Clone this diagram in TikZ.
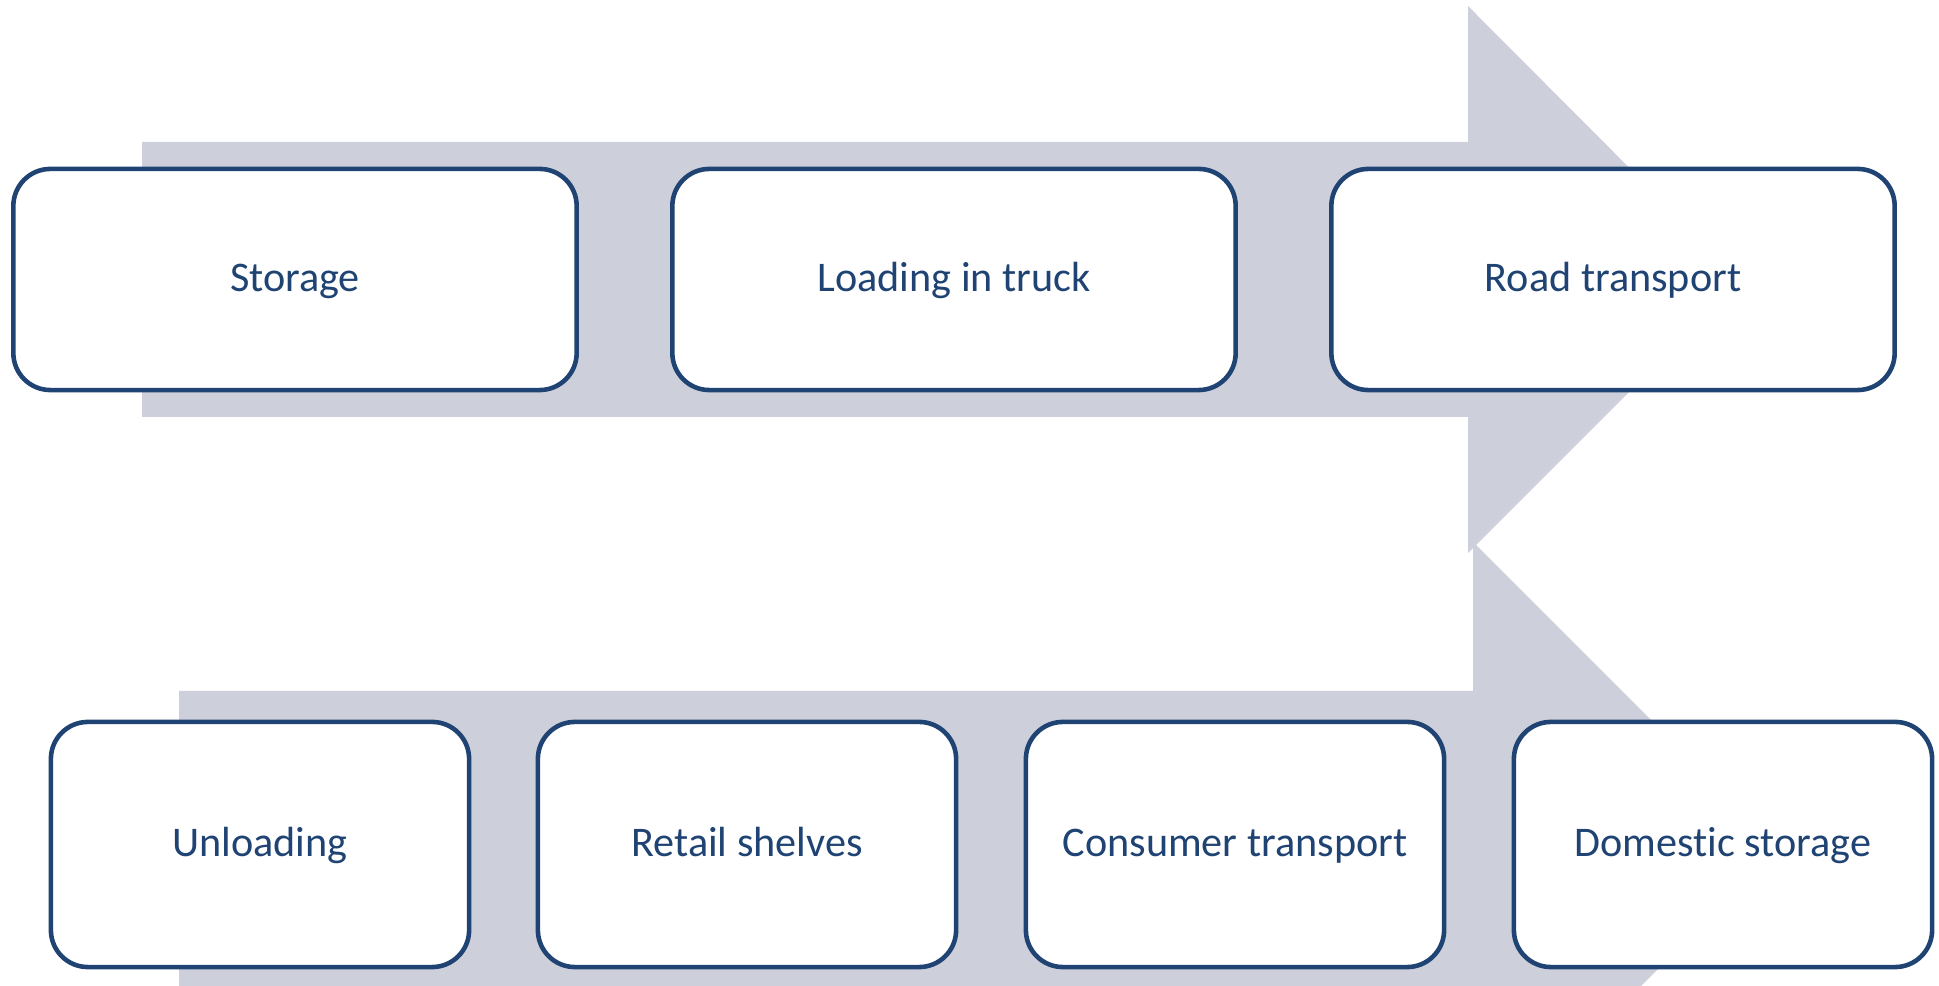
\documentclass[tikz,border=0pt]{standalone}
\usepackage{fontspec}
\setmainfont{Carlito}[Ligatures=NoCommon]
\usetikzlibrary{arrows,arrows.meta,positioning,shapes}

\definecolor{stepblue}{HTML}{1F4373}
\definecolor{flowgrey}{HTML}{CDD0DA}

\begin{document}
\begin{tikzpicture}[x=0.01cm,y=-0.01cm]
	        \tikzstyle{flow}=[fill=flowgrey,draw=none]
	    	\tikzstyle{stage}=[draw=stepblue,line width=1.3pt,fill=white,rounded corners=0.37cm,text=stepblue,font=\fontsize{12}{14}\selectfont,text height=0.8em,text depth=0.1em]
	    	\tikzstyle{upper}=[stage,minimum width=5.63cm,minimum height=2.21cm]
	    	\tikzstyle{lower}=[stage,minimum width=4.18cm,minimum height=2.45cm]
		
	    	\useasboundingbox (0,0) rectangle (1939,986);
	    	\clip (0,0) rectangle (1939,986);
		
	    	% the two block arrows behind the steps
	    	\fill[flow] (142,142) -- (1468,142) -- (1468,6) -- (1741,280) -- (1468,553) -- (1468,417) -- (142,417) -- cycle;
	    	\fill[flow] (179,691) -- (1473,691) -- (1473,542) -- (1779,848) -- (1473,1154) -- (1473,1005) -- (179,1005) -- cycle;
		
	    	% first row
	    	\node[upper] (storage) at (295,279.5) {Storage};
	    	\node[upper] (loading) at (954,279.5) {Loading in truck};
	    	\node[upper] (road) at (1613,279.5) {Road transport};
		
	    	% second row
	    	\node[lower] (unloading) at (260,844.5) {Unloading};
	    	\node[lower] (retail) at (747,844.5) {Retail shelves};
	    	\node[lower] (consumer) at (1235,844.5) {Consumer transport};
	    	\node[lower] (domestic) at (1723,844.5) {Domestic storage};
	    	
	    \end{tikzpicture}
\end{document}
